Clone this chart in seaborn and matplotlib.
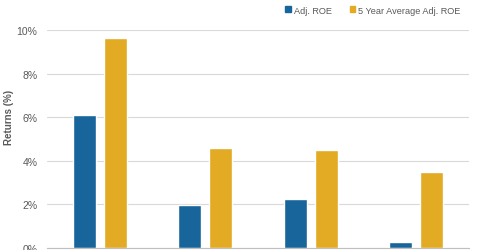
import matplotlib
matplotlib.use("Agg")
import matplotlib.pyplot as plt
import seaborn as sns
import pandas as pd
from matplotlib.patches import Patch
from matplotlib.ticker import FuncFormatter

categories = ["Company 1", "Company 2", "Company 3", "Company 4"]
adj_roe = [6.1, 1.97, 2.25, 0.28]
avg5_roe = [9.63, 4.6, 4.5, 3.49]
series_names = ["Adj. ROE", "5 Year Average Adj. ROE"]
colors = ["#17659A", "#E3AA24"]

df = pd.DataFrame({
    "Category": categories * 2,
    "Series": [series_names[0]] * 4 + [series_names[1]] * 4,
    "Value": adj_roe + avg5_roe,
})

sns.set_style("white")
plt.rcParams["font.family"] = ["Liberation Sans", "DejaVu Sans"]

fig = plt.figure(figsize=(4.8, 2.51), dpi=100)
ax = fig.add_axes([47/480, 2/251, 422/480, 218/251])

sns.barplot(data=df, x="Category", y="Value", hue="Series", palette=colors,
            width=0.59, gap=0.25, ax=ax, legend=False, saturation=1)

ax.set_ylim(0, 10)
ax.set_xlim(-0.5, 3.5)
ax.set_yticks([0, 2, 4, 6, 8, 10])
ax.yaxis.set_major_formatter(FuncFormatter(lambda v, p: f"{v:.0f}%"))
ax.grid(axis="y", color="#D9D9D9", linewidth=0.8)
ax.set_axisbelow(True)
for s in ["top", "right", "left"]:
    ax.spines[s].set_visible(False)
ax.spines["bottom"].set_color("#BFBFBF")
ax.tick_params(axis="y", length=0, labelsize=7.5, labelcolor="#595959", pad=7)
ax.tick_params(axis="x", length=0, labelbottom=False)
ax.set_xlabel("")
ax.set_ylabel("Returns (%)", fontsize=7, color="#595959", fontweight="bold")
ax.yaxis.set_label_coords((14 - 47) / 422, (249 - 117) / 218)

handles = [Patch(color=c) for c in colors]
fig.legend(handles, series_names, loc="center", bbox_to_anchor=(373/480, 1 - 11/251),
           ncol=2, frameon=False, fontsize=6.6, labelcolor="#595959",
           handlelength=0.6, handleheight=0.6, handletextpad=0.3, columnspacing=2.0)

fig.savefig("out.png", dpi=100)
